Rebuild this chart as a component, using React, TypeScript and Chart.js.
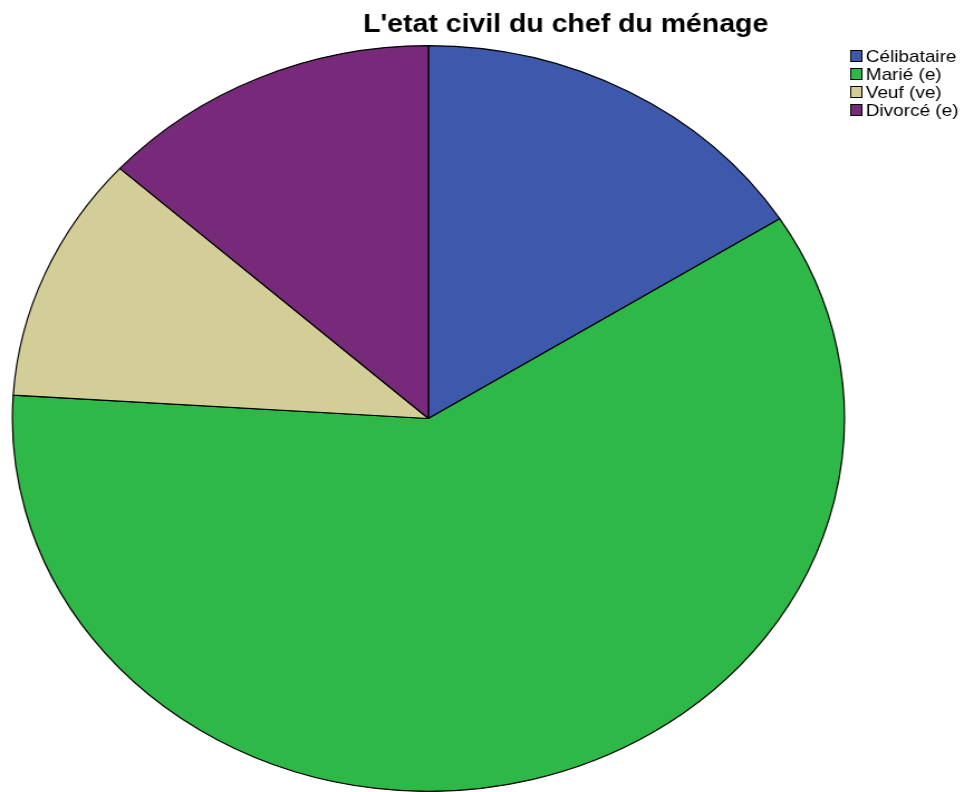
import React, { useEffect, useRef } from "react";
import { Chart, registerables } from "chart.js";

Chart.register(...registerables);

const TITLE = "L'etat civil du chef du ménage";
const categories = ["Célibataire", "Marié (e)", "Veuf (ve)", "Divorcé (e)"];
const values = [16.0, 60.0, 10.7, 13.3];
const colors = ["#3E58AC", "#2EB848", "#D3CE97", "#782A7A"];

const LOGICAL_W = 873;
const H = 792;
const DISPLAY_W = 974;

export default function App() {
  const ref = useRef<HTMLCanvasElement>(null);

  useEffect(() => {
    const canvas = ref.current;
    if (!canvas) return;

    const overlay = {
      id: "overlay",
      afterDraw(chart: any) {
        const ctx = chart.ctx as CanvasRenderingContext2D;
        ctx.save();
        // title
        ctx.fillStyle = "#000";
        ctx.font = "bold 25.5px 'Liberation Sans', Arial, sans-serif";
        ctx.textAlign = "center";
        ctx.textBaseline = "alphabetic";
        ctx.fillText(TITLE, 507, 32);
        // legend
        ctx.font = "17px 'Liberation Sans', Arial, sans-serif";
        ctx.textAlign = "left";
        ctx.textBaseline = "middle";
        const x0 = 762;
        const y0 = 56;
        const step = 18;
        categories.forEach((c, i) => {
          const cy = y0 + i * step;
          ctx.fillStyle = colors[i];
          ctx.fillRect(x0, cy - 6, 11, 12);
          ctx.strokeStyle = "#000";
          ctx.lineWidth = 1;
          ctx.strokeRect(x0 + 0.5, cy - 5.5, 10, 11);
          ctx.fillStyle = "#000";
          ctx.fillText(c, x0 + 14, cy + 1);
        });
        ctx.restore();
      },
    };

    const chart = new Chart(canvas, {
      type: "pie",
      data: {
        labels: categories,
        datasets: [
          {
            data: values,
            backgroundColor: colors,
            borderColor: "#000",
            borderWidth: 1.2,
          },
        ],
      },
      options: {
        responsive: false,
        animation: false,
        layout: { padding: { left: 10.5, right: 115.5, top: 45, bottom: 0 } },
        plugins: {
          legend: { display: false },
          title: { display: false },
          tooltip: { enabled: false },
        },
      },
      plugins: [overlay],
    });
    return () => chart.destroy();
  }, []);

  return (
    <div
      style={{
        position: "fixed",
        left: 0,
        top: 0,
        width: DISPLAY_W,
        height: H,
        background: "#fff",
      }}
    >
      <canvas
        ref={ref}
        width={LOGICAL_W}
        height={H}
        style={{ width: DISPLAY_W + "px", height: H + "px", display: "block" }}
      />
    </div>
  );
}
